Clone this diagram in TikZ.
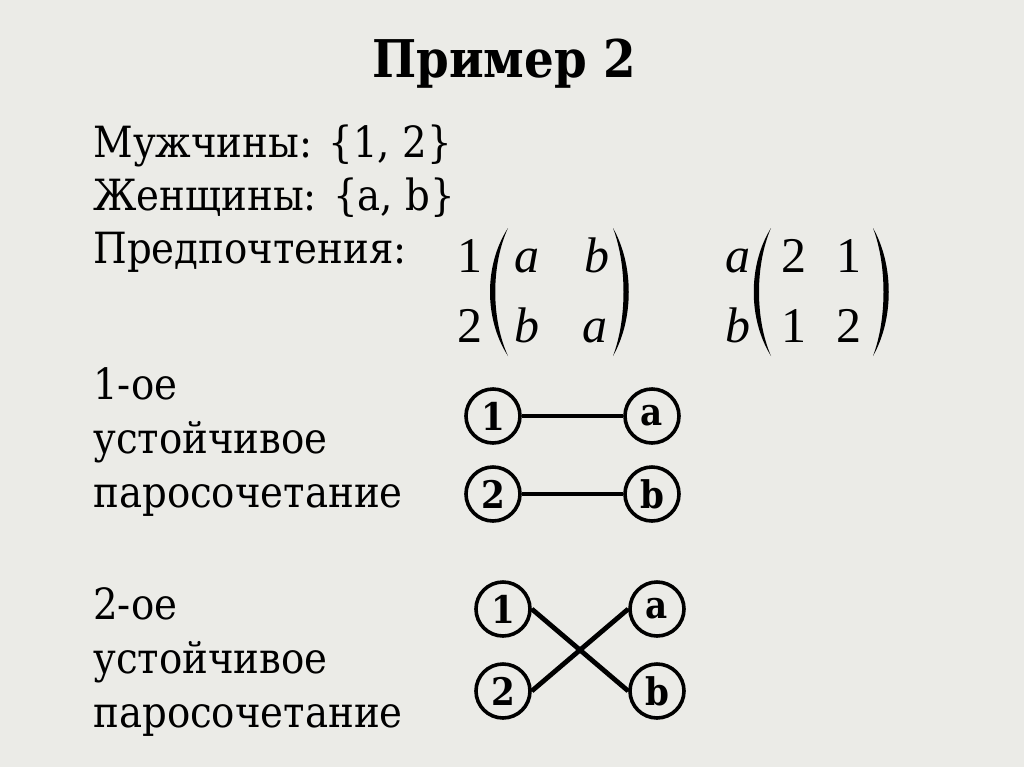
\documentclass[tikz,border=0pt]{standalone}
\usepackage{fontspec}
\setmainfont{DejaVu Serif Condensed}
\newfontfamily\matfont{Liberation Serif}
\usepackage{tikz}

\definecolor{slidebg}{RGB}{235,235,231}

\begin{document}
\begin{tikzpicture}[x=0.5pt,y=-0.5pt]
\tikzstyle{every node}+=[inner sep=0pt]
\tikzstyle{txt}=[anchor=base west,font=\fontsize{21.5}{25}\selectfont]
\tikzstyle{ent}=[anchor=base,font=\matfont\fontsize{25}{28}\selectfont]
\tikzstyle{vert}=[draw,circle,line width=1.8pt,minimum size=27pt,font=\bfseries\fontsize{19}{21}\selectfont]
\tikzstyle{match}=[line width=2.4pt]
\fill [slidebg] (0,0) rectangle (1024,767);
\useasboundingbox (0,0) rectangle (1024,767);
\node [anchor=base,font=\bfseries\fontsize{26}{30}\selectfont] (title) at (504,77) {Пример 2};
\node [txt] (men) at (93,157) {Мужчины: \{1, 2\}};
\node [txt] (women) at (93,210) {Женщины: \{a, b\}};
\node [txt] (pref) at (93,263) {Предпочтения:};
\node [txt] (st1a) at (93,399) {1-ое};
\node [txt] (st1b) at (93,453) {устойчивое};
\node [txt] (st1c) at (93,507) {паросочетание};
\node [txt] (st2a) at (93,619) {2-ое};
\node [txt] (st2b) at (93,673) {устойчивое};
\node [txt] (st2c) at (93,727) {паросочетание};
\node [ent] (r1) at (470,272) {1};
\node [ent] (r2) at (470,342) {2};
\node [ent] (m11) at (527,272) {\itshape a};
\node [ent] (m12) at (597,272) {\itshape b};
\node [ent] (m21) at (527,342) {\itshape b};
\node [ent] (m22) at (595,342) {\itshape a};
\node [ent] (c1) at (738,272) {\itshape a};
\node [ent] (c2) at (738,342) {\itshape b};
\node [ent] (w11) at (794,272) {2};
\node [ent] (w12) at (849,272) {1};
\node [ent] (w21) at (794,342) {1};
\node [ent] (w22) at (849,342) {2};
\fill [black] (508,228) .. controls (484,265) and (484,319) .. (508,356) .. controls (491,319) and (491,265) .. (508,228);
\fill [black] (613,228) .. controls (634,265) and (634,319) .. (613,356) .. controls (627,319) and (627,265) .. (613,228);
\fill [black] (771,228) .. controls (748,265) and (748,319) .. (771,356) .. controls (755,319) and (755,265) .. (771,228);
\fill [black] (873,228) .. controls (894,265) and (894,319) .. (873,356) .. controls (887,319) and (887,265) .. (873,228);
\node [vert] (a1) at (493,416) {1};
\node [vert] (a2) at (652,416) {a};
\node [vert] (a3) at (493,494) {2};
\node [vert] (a4) at (652,494) {b};
\draw [match] (a1) -- (a2);
\draw [match] (a3) -- (a4);
\node [vert] (b1) at (503,609) {1};
\node [vert] (b2) at (657,609) {a};
\node [vert] (b3) at (503,691) {2};
\node [vert] (b4) at (657,691) {b};
\draw [match] (b1.east) -- (b4.west);
\draw [match] (b3.east) -- (b2.west);
\end{tikzpicture}
\end{document}
